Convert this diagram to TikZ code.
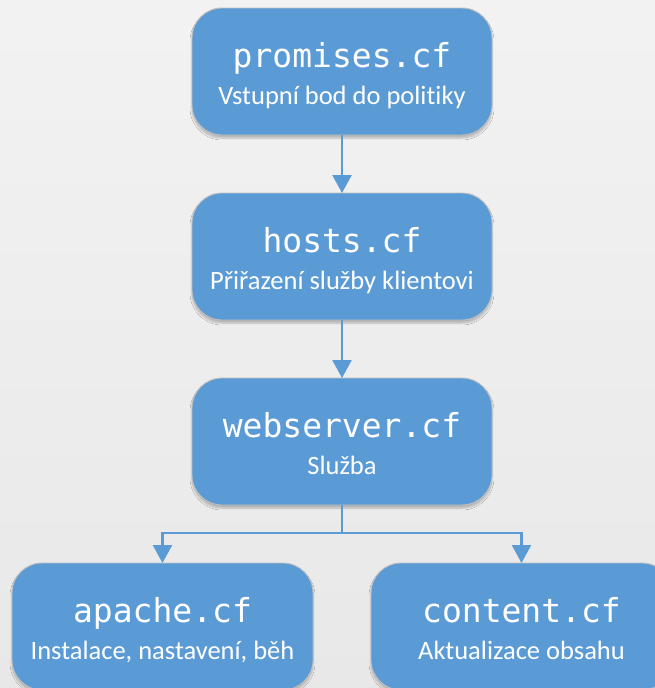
\documentclass[tikz,border=0pt]{standalone}
\usepackage{fontspec}
\setmainfont{Carlito}[Ligatures=NoCommon]
\newfontfamily\codefont{DejaVu Sans Mono}
\usetikzlibrary{arrows.meta,shadows.blur}
\definecolor{boxblue}{HTML}{5B9BD5}
\definecolor{boxedge}{HTML}{BFBFBF}
\tikzset{
  box/.style={draw=boxedge, line width=0.9pt, fill=boxblue, rounded corners=30pt,
    minimum width=300pt, minimum height=127pt, inner sep=0pt, outer sep=0pt,
    blur shadow={shadow xshift=0pt, shadow yshift=-3pt, shadow blur steps=6, shadow opacity=25}},
  titletext/.style={anchor=base, text=white, inner sep=0pt, font=\codefont\fontsize{33}{36}\selectfont},
  subtext/.style={anchor=base, text=white, inner sep=0pt, font=\fontsize{26.5}{29}\selectfont},
  conn/.style={draw=boxblue, line width=2.6pt, -{Triangle[width=19pt,length=18pt]}}
}
\begin{document}
\begin{tikzpicture}[x=1pt,y=-1pt]
\useasboundingbox (0,0) rectangle (655,688);
\shade[top color=black!5, bottom color=black!9] (0,0) rectangle (655,688);
\begin{scope}
\clip (0,0) rectangle (655,688);
\node[box] (promises) at (342,71.5) {};
\node[titletext] (promisesT) at (342,67) {promises.cf};
\node[subtext] (promisesS) at (342,104) {Vstupní bod do politiky};

\node[box] (hosts) at (342,256.5) {};
\node[titletext] (hostsT) at (342,252) {hosts.cf};
\node[subtext] (hostsS) at (342,289) {Přiřazení služby klientovi};

\node[box] (web) at (342,441.5) {};
\node[titletext] (webT) at (342,437) {webserver.cf};
\node[subtext] (webS) at (342,474) {Služba};

\node[box, minimum width=301pt] (apache) at (162.5,626.5) {};
\node[titletext] (apacheT) at (162.5,622) {apache.cf};
\node[subtext] (apacheS) at (162.5,659) {Instalace, nastavení, běh};

\node[box, minimum width=301pt] (content) at (521.5,626.5) {};
\node[titletext] (contentT) at (521.5,622) {content.cf};
\node[subtext] (contentS) at (521.5,659) {Aktualizace obsahu};

\coordinate (split) at (342,533);
\draw[conn] (promises.south) -- (hosts.north);
\draw[conn] (hosts.south) -- (web.north);
\draw[draw=boxblue, line width=2.6pt] (web.south) -- (split);
\draw[conn] (split) -| (apache.north);
\draw[conn] (split) -| (content.north);
\end{scope}
\end{tikzpicture}
\end{document}
